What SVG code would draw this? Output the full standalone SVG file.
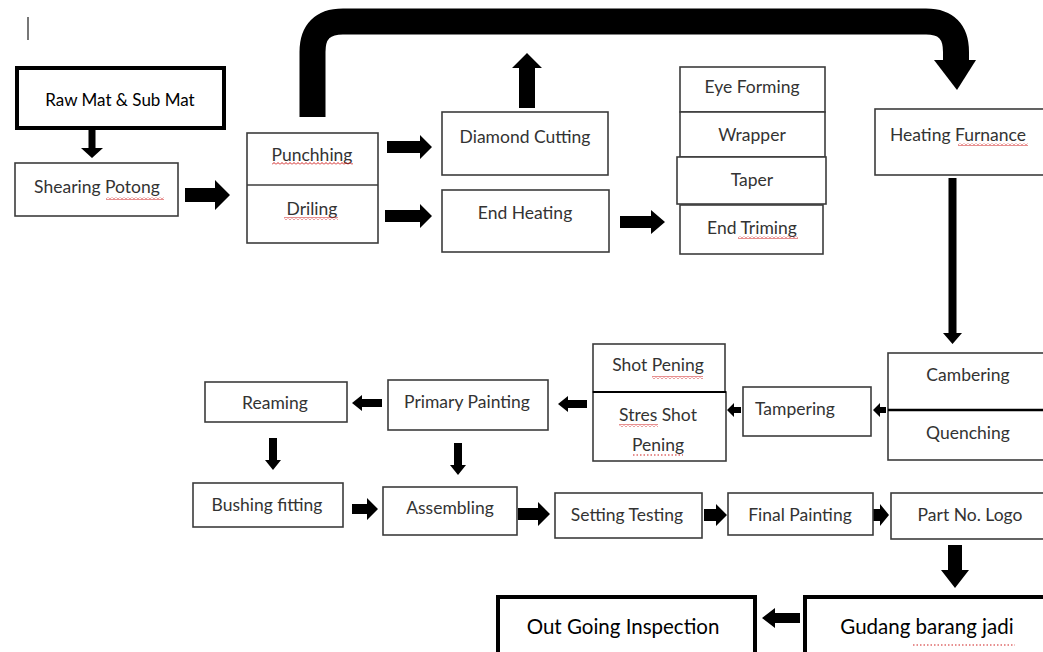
<svg xmlns="http://www.w3.org/2000/svg" width="1043" height="652" viewBox="0 0 1043 652">
<style>
.box{fill:#fff;stroke:#3c3c3c;stroke-width:1.6}
.tbox{fill:#fff;stroke:#000;stroke-width:4}
.t{font-family:Lato,"Open Sans","Liberation Sans",sans-serif;font-size:17.5px;fill:#333;text-anchor:middle}
.tk{font-family:Lato,"Open Sans","Liberation Sans",sans-serif;font-size:17px;fill:#000;text-anchor:middle}
.tb{font-family:Lato,"Open Sans","Liberation Sans",sans-serif;font-size:20.5px;fill:#000;text-anchor:middle}
.a{fill:#000}
.sq{fill:url(#wave)}
.dot{stroke:#d02020;stroke-width:1.2;stroke-dasharray:1.5 2;fill:none}
</style>
<defs>
<pattern id="wave" width="4" height="3" patternUnits="userSpaceOnUse">
<path d="M0,2.5 L2,0.5 L4,2.5" fill="none" stroke="#d02020" stroke-width="1"/>
</pattern>
</defs>
<rect width="1043" height="652" fill="#fff"/>
<line x1="28" y1="17" x2="28" y2="40" stroke="#777" stroke-width="2"/>

<g id="connectors">
<polygon class="a" points="88.5,130 95.5,130 95.5,148 103,148 92,158 81,148 88.5,148"/>
<polygon class="a" points="185,188 215,188 215,180 230,195 215,210 215,202 185,202"/>
<polygon class="a" points="387,141 420,141 420,135 432,147 420,159 420,153 387,153"/>
<polygon class="a" points="385,210 420,210 420,204 432,216 420,228 420,222 385,222"/>
<polygon class="a" points="620,216 651,216 651,210 665,222 651,234 651,228 620,228"/>
<polygon class="a" points="519,108 519,68 512,68 527,53 542,68 535,68 535,108"/>
<path d="M312.5,117 V52 Q312.5,21.5 343,21.5 H926 Q956,21.5 956,52 V62" fill="none" stroke="#000" stroke-width="26"/>
<polygon class="a" points="934,60 976,60 957,90"/>
<polygon class="a" points="948.5,178 956.5,178 956.5,333 962,333 952.5,344 943,333 948.5,333"/>
<polygon class="a" points="886,407 880,407 880,403 873,410 880,417 880,413 886,413"/>
<polygon class="a" points="741,407 734,407 734,403 727,410 734,417 734,413 741,413"/>
<polygon class="a" points="587,400 568,400 568,396 558,404 568,412 568,408 587,408"/>
<polygon class="a" points="382,399 362,399 362,395 352,403 362,411 362,407 382,407"/>
<polygon class="a" points="269,438 277,438 277,460 281,460 273,470 265,460 269,460"/>
<polygon class="a" points="454,443 462,443 462,465 466,465 458,475 450,465 454,465"/>
<polygon class="a" points="352,504 367,504 367,498 378,509 367,520 367,514 352,514"/>
<polygon class="a" points="518,508 538,508 538,502 550,514 538,526 538,520 518,520"/>
<polygon class="a" points="704,509 716,509 716,504 727,515 716,526 716,521 704,521"/>
<polygon class="a" points="873,509 880,509 880,504 889,515 880,526 880,521 873,521"/>
<polygon class="a" points="948,545 962,545 962,570 969,570 955,588 941,570 948,570"/>
<polygon class="a" points="800,613 775,613 775,608 762,618 775,628 775,623 800,623"/>
</g>

<g id="raw-mat"><rect class="tbox" x="17" y="68" width="207" height="60"/><text class="tk" x="120" y="106">Raw Mat &amp; Sub Mat</text></g>
<g id="shearing"><rect class="box" x="15" y="163" width="163" height="53"/><text class="t" x="97" y="193">Shearing Potong</text><rect class="sq" x="106" y="197" width="58" height="3"/></g>
<g id="punch-dril"><rect class="box" x="247" y="133" width="131" height="110"/><line x1="247" y1="185" x2="378" y2="185" stroke="#3c3c3c" stroke-width="1.6"/>
<text class="t" x="312" y="161">Punchhing</text><rect class="sq" x="272" y="162" width="81" height="3"/>
<text class="t" x="312" y="215">Driling</text><rect class="sq" x="284" y="217" width="54" height="3"/></g>
<g id="diamond"><rect class="box" x="442" y="112" width="166" height="63"/><text class="t" x="525" y="143">Diamond Cutting</text></g>
<g id="end-heating"><rect class="box" x="442" y="190" width="167" height="62"/><text class="t" x="525" y="219">End Heating</text></g>
<g id="stack">
<rect class="box" x="680" y="67" width="145" height="45"/><text class="t" x="752" y="93">Eye Forming</text>
<rect class="box" x="680" y="112" width="145" height="45"/><text class="t" x="752" y="141">Wrapper</text>
<rect class="box" x="677" y="157" width="149" height="47"/><text class="t" x="752" y="186">Taper</text>
<rect class="box" x="680" y="205" width="143" height="49"/><text class="t" x="752" y="234">End Triming</text><rect class="sq" x="738" y="236" width="60" height="3"/>
</g>
<g id="heating-furnance"><rect class="box" x="875" y="109" width="170" height="66"/><text class="t" x="958" y="141">Heating Furnance</text><rect class="sq" x="958" y="143" width="70" height="3"/></g>
<g id="cambering"><rect class="box" x="888" y="353" width="157" height="107"/><line x1="888" y1="410" x2="1045" y2="410" stroke="#000" stroke-width="2.4"/>
<text class="t" x="968" y="381">Cambering</text><text class="t" x="968" y="439">Quenching</text></g>
<g id="tampering"><rect class="box" x="743" y="387" width="128" height="49"/><text class="t" x="795" y="415">Tampering</text></g>
<g id="shot-pening"><rect class="box" x="593" y="344" width="132" height="48"/><text class="t" x="658" y="371">Shot Pening</text><rect class="sq" x="652" y="376" width="51" height="3"/>
<rect class="box" x="593" y="392" width="133" height="69"/><line x1="593" y1="392" x2="726" y2="392" stroke="#000" stroke-width="2.2"/>
<text class="t" x="658" y="421">Stres Shot</text><rect class="sq" x="619" y="424" width="39" height="3"/>
<text class="t" x="658" y="451">Pening</text><line class="dot" x1="633" y1="455" x2="683" y2="455"/></g>
<g id="primary-painting"><rect class="box" x="388" y="380" width="160" height="50"/><text class="t" x="467" y="408">Primary Painting</text></g>
<g id="reaming"><rect class="box" x="205" y="382" width="142" height="40"/><text class="t" x="275" y="409">Reaming</text></g>
<g id="bushing"><rect class="box" x="193" y="483" width="150" height="44"/><text class="t" x="267" y="511">Bushing fitting</text></g>
<g id="assembling"><rect class="box" x="383" y="487" width="134" height="48"/><text class="t" x="450" y="514">Assembling</text></g>
<g id="setting"><rect class="box" x="555" y="493" width="147" height="45"/><text class="t" x="627" y="521">Setting Testing</text></g>
<g id="final-painting"><rect class="box" x="728" y="493" width="145" height="42"/><text class="t" x="800" y="521">Final Painting</text></g>
<g id="part-no"><rect class="box" x="891" y="493" width="154" height="46"/><text class="t" x="970" y="521">Part No. Logo</text></g>
<g id="gudang"><rect class="tbox" x="805" y="597" width="242" height="60"/><text class="tb" x="927" y="634">Gudang barang jadi</text><line class="dot" x1="913" y1="645" x2="1015" y2="645"/></g>
<g id="out-going"><rect class="tbox" x="498" y="597" width="257" height="60"/><text class="tb" x="623" y="634">Out Going Inspection</text></g>
</svg>
